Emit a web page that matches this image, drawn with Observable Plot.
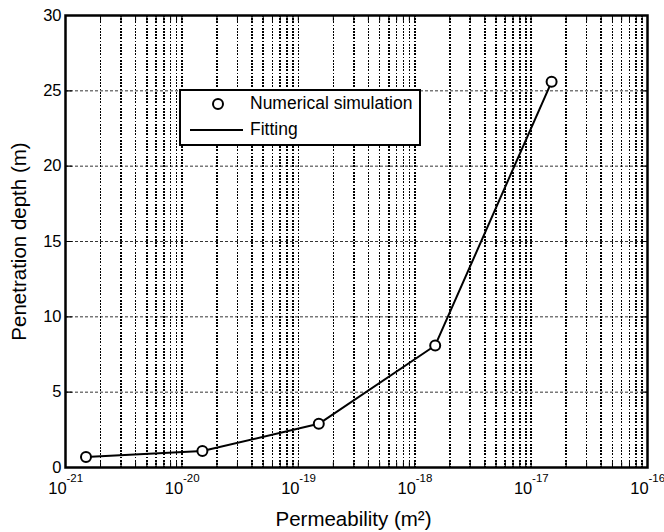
<!DOCTYPE html>
<html><head><meta charset="utf-8">
<script src="https://cdn.jsdelivr.net/npm/d3@7"></script>
<script src="https://cdn.jsdelivr.net/npm/@observablehq/plot@0.6"></script>
<style>
body{margin:0;background:#fff}
#chart{width:664px;height:532px}
</style>
</head><body><div id="chart"></div>
<script>
// ---- data ----
const permeability = [1.5e-21, 1.5e-20, 1.5e-19, 1.5e-18, 1.5e-17];
const depth = [0.7, 1.1, 2.9, 8.1, 25.6];
const xExponents = [-21, -20, -19, -18, -17, -16];
const yTicks = [0, 5, 10, 15, 20, 25, 30];
const legendLabels = ["Numerical simulation", "Fitting"];
const xLabel = "Permeability (m\u00B2)";
const yLabel = "Penetration depth (m)";

const data = permeability.map((k, i) => ({k, d: depth[i]}));
const majorX = xExponents.map(e => Math.pow(10, e));
const minorX = [];
for (const e of xExponents.slice(0, -1)) for (let m = 1; m <= 9; m++) minorX.push(m * Math.pow(10, e));
const gridX = minorX.filter(v => v > 1.001e-21);
const gridY = yTicks.filter(v => v > 0 && v < 30);
const font = "'Liberation Sans', Arial, Helvetica, sans-serif";
const tickShape = {draw(ctx, l) { ctx.moveTo(0, 0); ctx.lineTo(0, -l); }};

const plot = Plot.plot({
  width: 664, height: 532,
  marginLeft: 65, marginRight: 17, marginTop: 15, marginBottom: 65,
  style: {fontFamily: font, background: "#fff", color: "#000", overflow: "visible"},
  x: {type: "log", domain: [1e-21, 1e-16], axis: null},
  y: {domain: [0, 30], axis: null},
  marks: [
    Plot.ruleX(gridX, {x: d => d, stroke: "#000", strokeWidth: 1.6, strokeDasharray: "1.8,1.4", shapeRendering: "crispEdges"}),
    Plot.ruleY(gridY, {y: d => d, stroke: "#000", strokeWidth: 0.8, strokeDasharray: "3,2"}),
    // inner ticks
    Plot.vector(gridY, {y: d => d, frameAnchor: "right", length: 6, rotate: -90, anchor: "start", shape: tickShape, stroke: "#000", strokeWidth: 1.2}),
    Plot.vector(gridY, {y: d => d, frameAnchor: "left", length: 6, rotate: 90, anchor: "start", shape: tickShape, stroke: "#000", strokeWidth: 1.2}),
    Plot.vector(gridX, {x: d => d, frameAnchor: "bottom", length: 5, rotate: 0, anchor: "start", shape: tickShape, stroke: "#000", strokeWidth: 1}),
    Plot.vector(gridX, {x: d => d, frameAnchor: "top", length: 5, rotate: 180, anchor: "start", shape: tickShape, stroke: "#000", strokeWidth: 1}),
    // y tick labels
    Plot.text(yTicks, {y: d => d, frameAnchor: "left", text: d => String(d), textAnchor: "end", dx: -4, fontSize: 16.5, fill: "#000"}),
    // x tick labels 10^e
    Plot.text(majorX, {x: d => d, frameAnchor: "bottom", text: () => "10", textAnchor: "middle", lineAnchor: "bottom", dx: -8, dy: 26, fontSize: 16.5, fill: "#000"}),
    Plot.text(xExponents, {x: e => Math.pow(10, e), frameAnchor: "bottom", text: e => String(e), textAnchor: "start", lineAnchor: "bottom", dx: 1, dy: 14, fontSize: 11.5, fill: "#000"}),
    // axis labels
    Plot.text([xLabel], {frameAnchor: "bottom", text: d => d, textAnchor: "middle", lineAnchor: "bottom", dx: -3, dy: 58, fontSize: 20.5, fill: "#000"}),
    Plot.text([yLabel], {frameAnchor: "left", text: d => d, rotate: -90, textAnchor: "middle", lineAnchor: "bottom", dx: -40, fontSize: 20.5, fill: "#000"}),
    // data
    Plot.line(data, {x: "k", y: "d", stroke: "#000", strokeWidth: 2}),
    Plot.dot(data, {x: "k", y: "d", r: 5, stroke: "#000", strokeWidth: 2, fill: "#fff"}),
    Plot.frame({stroke: "#000", strokeWidth: 2.5})
  ]
});

// legend box
const svg = d3.select(plot);
const lg = svg.append("g").attr("font-family", font).style("font-size", "17.5px").attr("text-anchor", "start");
lg.append("rect").attr("x", 180).attr("y", 90).attr("width", 240).attr("height", 55)
  .attr("fill", "#fff").attr("stroke", "#000").attr("stroke-width", 2);
lg.append("circle").attr("cx", 218).attr("cy", 104).attr("r", 5)
  .attr("fill", "#fff").attr("stroke", "#000").attr("stroke-width", 2);
lg.append("text").attr("x", 250).attr("y", 108.5).attr("text-anchor", "start").attr("fill", "#000").text(legendLabels[0]);
lg.append("line").attr("x1", 190).attr("x2", 243).attr("y1", 130).attr("y2", 130)
  .attr("stroke", "#000").attr("stroke-width", 2);
lg.append("text").attr("x", 250).attr("y", 134.5).attr("text-anchor", "start").attr("fill", "#000").text(legendLabels[1]);

document.getElementById("chart").appendChild(plot);
</script>
</body></html>
